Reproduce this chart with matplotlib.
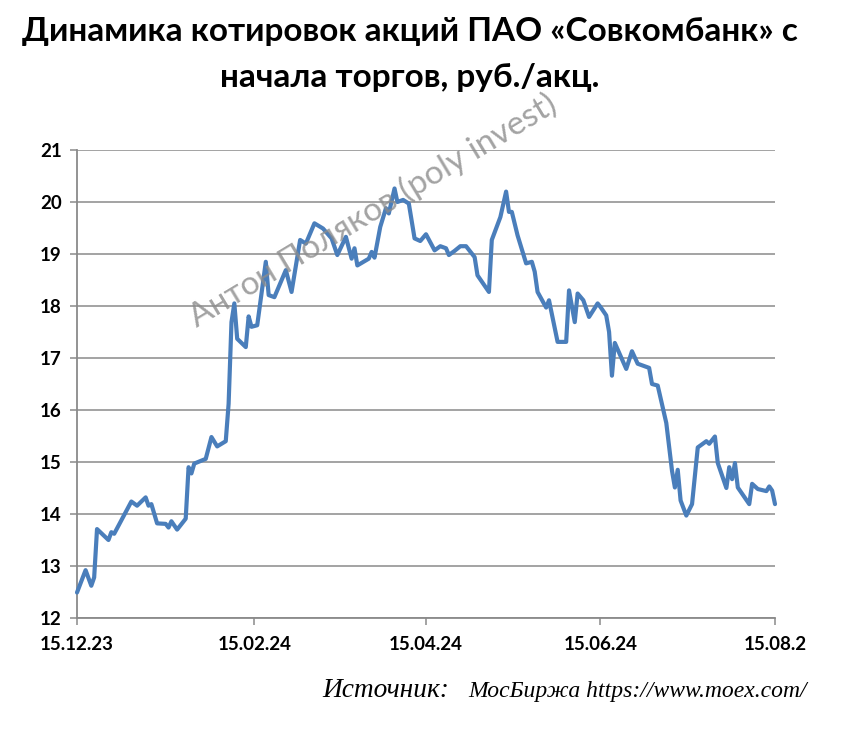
import matplotlib
matplotlib.use('Agg')
import matplotlib.pyplot as plt
import pandas as pd

# ---- data ----
dates = [
    '2023-12-15', '2023-12-18', '2023-12-20', '2023-12-21', '2023-12-22', '2023-12-26',
    '2023-12-27', '2023-12-28', '2024-01-03', '2024-01-05', '2024-01-08', '2024-01-09',
    '2024-01-10', '2024-01-12', '2024-01-15', '2024-01-16', '2024-01-17', '2024-01-19',
    '2024-01-22', '2024-01-23', '2024-01-24', '2024-01-25', '2024-01-29', '2024-01-31',
    '2024-02-02', '2024-02-05', '2024-02-06', '2024-02-07', '2024-02-08', '2024-02-09',
    '2024-02-12', '2024-02-13', '2024-02-14', '2024-02-16', '2024-02-19', '2024-02-20',
    '2024-02-22', '2024-02-26', '2024-02-28', '2024-03-02', '2024-03-04', '2024-03-07',
    '2024-03-10', '2024-03-13', '2024-03-15', '2024-03-18', '2024-03-20', '2024-03-21',
    '2024-03-22', '2024-03-26', '2024-03-27', '2024-03-28', '2024-03-30', '2024-04-01',
    '2024-04-02', '2024-04-04', '2024-04-05', '2024-04-07', '2024-04-09', '2024-04-11',
    '2024-04-13', '2024-04-15', '2024-04-18', '2024-04-20', '2024-04-22', '2024-04-23',
    '2024-04-25', '2024-04-27', '2024-04-29', '2024-05-02', '2024-05-03', '2024-05-07',
    '2024-05-08', '2024-05-11', '2024-05-13', '2024-05-14', '2024-05-15', '2024-05-17',
    '2024-05-20', '2024-05-22', '2024-05-23', '2024-05-24', '2024-05-27', '2024-05-28',
    '2024-05-31', '2024-06-03', '2024-06-04', '2024-06-06', '2024-06-07', '2024-06-09',
    '2024-06-11', '2024-06-14', '2024-06-15', '2024-06-17', '2024-06-18', '2024-06-19',
    '2024-06-20', '2024-06-24', '2024-06-26', '2024-06-28', '2024-07-02', '2024-07-03',
    '2024-07-05', '2024-07-08', '2024-07-10', '2024-07-11', '2024-07-12', '2024-07-13',
    '2024-07-15', '2024-07-17', '2024-07-19', '2024-07-22', '2024-07-23', '2024-07-25',
    '2024-07-26', '2024-07-29', '2024-07-30', '2024-07-31', '2024-08-01', '2024-08-02',
    '2024-08-06', '2024-08-07', '2024-08-09', '2024-08-12', '2024-08-13', '2024-08-14',
    '2024-08-15',
]
prices = [
    12.49, 12.92, 12.62, 12.78, 13.71, 13.50,
    13.65, 13.62, 14.24, 14.16, 14.32, 14.16,
    14.19, 13.82, 13.81, 13.74, 13.86, 13.70,
    13.91, 14.90, 14.78, 14.97, 15.06, 15.48,
    15.30, 15.40, 16.12, 17.69, 18.05, 17.37,
    17.21, 17.80, 17.60, 17.63, 18.85, 18.21,
    18.17, 18.69, 18.27, 19.27, 19.20, 19.59,
    19.49, 19.30, 18.98, 19.33, 18.91, 19.11,
    18.78, 18.91, 19.04, 18.93, 19.52, 19.88,
    19.78, 20.26, 20.00, 20.04, 19.97, 19.30,
    19.25, 19.38, 19.07, 19.15, 19.11, 18.98,
    19.06, 19.15, 19.15, 18.94, 18.59, 18.27,
    19.27, 19.71, 20.20, 19.81, 19.81, 19.36,
    18.82, 18.85, 18.66, 18.27, 17.97, 18.11,
    17.31, 17.31, 18.30, 17.69, 18.24, 18.11,
    17.79, 18.05, 17.98, 17.82, 17.50, 16.66,
    17.29, 16.79, 17.13, 16.89, 16.81, 16.50,
    16.47, 15.75, 14.83, 14.51, 14.85, 14.26,
    13.97, 14.19, 15.28, 15.40, 15.35, 15.49,
    14.98, 14.50, 14.90, 14.67, 14.98, 14.51,
    14.19, 14.58, 14.48, 14.44, 14.53, 14.45,
    14.19,
]
tick_dates = ['2023-12-15', '2024-02-15', '2024-04-15', '2024-06-15', '2024-08-15']
tick_labels = ['15.12.23', '15.02.24', '15.04.24', '15.06.24', '15.08.2']
y_ticks = [12, 13, 14, 15, 16, 17, 18, 19, 20, 21]

title_lines = ['Динамика котировок акций ПАО «Совкомбанк» с', 'начала торгов, руб./акц.']
watermark = 'Антон Поляков (poly invest)'
source_label = 'Источник:'
source_text = 'МосБиржа https://www.moex.com/'

# ---- figure ----
W, H = 860, 735
fig = plt.figure(figsize=(W / 100, H / 100), dpi=100)
fig.patch.set_facecolor('white')

def fx(px):
    return px / W

def fy(py):
    return 1 - py / H

ax = fig.add_axes([fx(77), fy(618), fx(775) - fx(77), fy(150) - fy(618)])
x = pd.to_datetime(dates)
ax.plot(x, prices, color='#4a7ebb', lw=3.0, solid_joinstyle='round',
        solid_capstyle='round', zorder=3, clip_on=False)

ax.set_xlim(pd.Timestamp(tick_dates[0]), pd.Timestamp(tick_dates[-1]))
ax.set_ylim(y_ticks[0], y_ticks[-1])
ax.set_yticks(y_ticks)
ax.set_xticks(pd.to_datetime(tick_dates))
ax.set_xticklabels(tick_labels)

grid_c = '#8a8a8a'
ax.grid(axis='y', color=grid_c, lw=1.1, zorder=1)
ax.grid(axis='x', visible=False)
for s in ['top', 'right']:
    ax.spines[s].set_visible(False)
for s in ['left', 'bottom']:
    ax.spines[s].set_color(grid_c)
    ax.spines[s].set_linewidth(1.3)
ax.tick_params(axis='both', color=grid_c, width=1.1, length=5, direction='out')
ax.tick_params(axis='y', pad=6)
ax.tick_params(axis='x', pad=8)

for lab in ax.get_yticklabels() + ax.get_xticklabels():
    lab.set_fontfamily(['Lato', 'DejaVu Sans'])
    lab.set_fontweight('bold')
    lab.set_fontsize(13.5)
    lab.set_color('black')

# title
fig.text(fx(410), fy(41), title_lines[0], ha='center', va='baseline',
         family=['Lato', 'DejaVu Sans'], weight='bold', fontsize=24, color='black')
fig.text(fx(410), fy(87), title_lines[1], ha='center', va='baseline',
         family=['Lato', 'DejaVu Sans'], weight='bold', fontsize=24, color='black')

# watermark
fig.text(fx(373), fy(211), watermark, ha='center', va='center', rotation=31,
         rotation_mode='anchor', family=['Lato', 'DejaVu Sans'], fontsize=24,
         color='#8c8c8c', alpha=0.8, zorder=10)

# source
fig.text(fx(322), fy(697), source_label, ha='left', va='baseline',
         family=['Liberation Serif', 'DejaVu Serif'], style='italic', fontsize=19.7, color='black')
fig.text(fx(468), fy(697), source_text, ha='left', va='baseline',
         family=['Liberation Serif', 'DejaVu Serif'], style='italic', fontsize=17, color='black')

fig.savefig('out.png', dpi=100, facecolor='white')
